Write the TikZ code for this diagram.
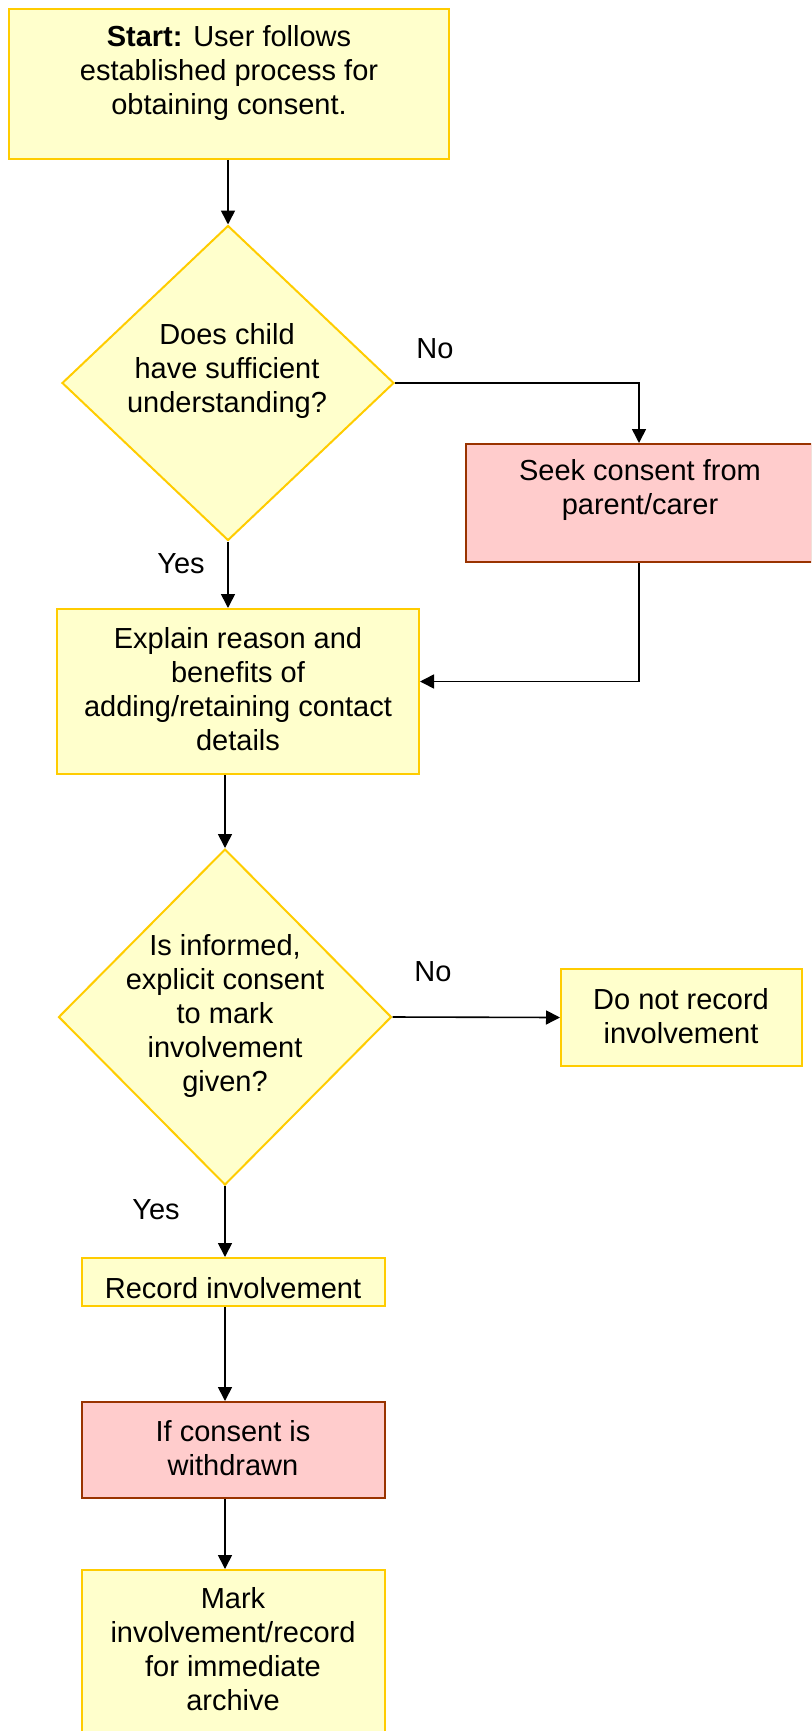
\documentclass[tikz,border=0pt]{standalone}
\usepackage{fontspec}
\setmainfont{Liberation Sans}
\usetikzlibrary{shapes.geometric,arrows.meta,calc}

\definecolor{boxfill}{HTML}{FFFFCC}
\definecolor{boxline}{HTML}{FFCC00}
\definecolor{alertfill}{HTML}{FFCCCC}
\definecolor{alertline}{HTML}{993300}

\tikzset{
  every node/.style={font=\fontsize{29}{34}\selectfont},
  ybox/.style={rectangle, draw=boxline, fill=boxfill, line width=2pt, inner sep=0pt},
  pbox/.style={rectangle, draw=alertline, fill=alertfill, line width=2pt, inner sep=0pt},
  decision/.style={diamond, aspect=1, draw=boxline, fill=boxfill, line width=2pt, inner sep=0pt},
  txt/.style={align=center, inner sep=0pt},
  flow/.style={line width=1.6pt, -{Triangle[length=14pt,width=14pt]}},
}

\begin{document}
\begin{tikzpicture}[x=1pt, y=-1pt]
\useasboundingbox (0,0) rectangle (811,1731);
\clip (0,0) rectangle (811,1731);

% boxes
\node[ybox, minimum width=440pt, minimum height=150pt] (start) at (229,84) {};
\node[decision, minimum width=332pt, minimum height=315pt] (dia1) at (228,383) {};
\node[pbox, minimum width=346pt, minimum height=118pt] (seek) at (639,503) {};
\node[ybox, minimum width=362pt, minimum height=165pt] (explain) at (238,691.5) {};
\node[decision, minimum width=333pt, minimum height=336pt] (dia2) at (225,1017) {};
\node[ybox, minimum width=241pt, minimum height=97pt] (dnr) at (681.5,1017.5) {};
\node[ybox, minimum width=303pt, minimum height=48pt] (record) at (233.5,1282) {};
\node[pbox, minimum width=303pt, minimum height=96pt] (ifw) at (233.5,1450) {};
\node[ybox, minimum width=303pt, minimum height=175pt] (mark) at (233.5,1657.5) {};

% texts
\node[txt] (startt) at (229,73) {\textbf{Start:} User follows\\established process for\\obtaining consent.};
\node[txt] (dia1t) at (227,371) {Does child\\have sufficient\\understanding?};
\node[txt] (seekt) at (640,490) {Seek consent from\\parent/carer};
\node[txt] (explaint) at (238,689) {Explain reason and\\benefits of\\adding/retaining contact\\details};
\node[txt] (dia2t) at (225,1016) {Is informed,\\explicit consent\\to mark\\involvement\\given?};
\node[txt] (dnrt) at (681,1016) {Do not record\\involvement};
\node[txt] (recordt) at (233,1288) {Record involvement};
\node[txt] (ifwt) at (233,1448) {If consent is\\withdrawn};
\node[txt] (markt) at (233,1649) {Mark\\involvement/record\\for immediate\\archive};

% branch labels
\node[txt] (no1) at (435,349) {No};
\node[txt] (yes1) at (181,564) {Yes};
\node[txt] (no2) at (433,972) {No};
\node[txt] (yes2) at (156,1210) {Yes};

% connectors
\draw[flow] (dia1.north |- start.south) -- (dia1.north);
\draw[flow] (dia1.east) -| (seek.north);
\draw[flow] (dia1.south) -- (dia1.south |- explain.north);
\draw[flow] (seek.south) |- ([yshift=10pt]explain.east);
\draw[flow] (dia2.north |- explain.south) -- (dia2.north);
\draw[flow] (dia2.east) -- (dnr.west);
\draw[flow] (dia2.south) -- (dia2.south |- record.north);
\draw[flow] (dia2.south |- record.south) -- (dia2.south |- ifw.north);
\draw[flow] (dia2.south |- ifw.south) -- (dia2.south |- mark.north);
\end{tikzpicture}
\end{document}
